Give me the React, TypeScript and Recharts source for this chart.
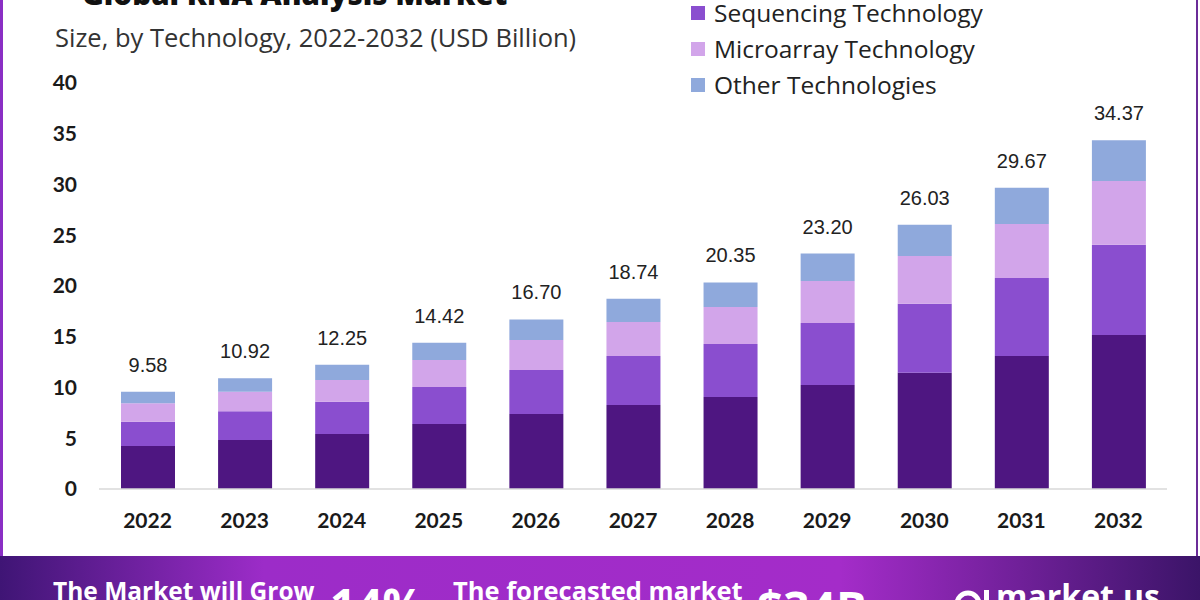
import { BarChart, Bar, XAxis, YAxis, LabelList } from "recharts";

const years = ["2022", "2023", "2024", "2025", "2026", "2027", "2028", "2029", "2030", "2031", "2032"];
const totals = [9.58, 10.92, 12.25, 14.42, 16.7, 18.74, 20.35, 23.2, 26.03, 29.67, 34.37];
const baseSegment = [4.24, 4.83, 5.42, 6.4, 7.39, 8.28, 9.06, 10.25, 11.46, 13.1, 15.17];
const sequencing = [2.39, 2.82, 3.18, 3.65, 4.33, 4.82, 5.23, 6.1, 6.8, 7.69, 8.9];
const microarray = [1.81, 1.94, 2.14, 2.65, 2.96, 3.35, 3.64, 4.14, 4.7, 5.31, 6.27];
const otherTech = [1.14, 1.33, 1.51, 1.72, 2.02, 2.29, 2.42, 2.71, 3.07, 3.57, 4.03];
const yTicks = [0, 5, 10, 15, 20, 25, 30, 35, 40];

const legendItems = [
  { name: "Sequencing Technology", color: "#8a4ecf" },
  { name: "Microarray Technology", color: "#d2a5ea" },
  { name: "Other Technologies", color: "#8fa9dc" },
];

const data = years.map((year, i) => ({
  year,
  base: baseSegment[i],
  sequencing: sequencing[i],
  microarray: microarray[i],
  other: otherTech[i],
}));

const tickFont = { fontFamily: "Lato", fontWeight: 700, fontSize: 21, fill: "#1a1a1a" };

function TotalLabel(props: any) {
  const { x, y, width, index } = props;
  return (
    <text
      x={x + width / 2}
      y={y - 20}
      textAnchor="middle"
      fontFamily="Liberation Sans"
      fontSize={20}
      fill="#222"
    >
      {totals[index].toFixed(2)}
    </text>
  );
}

export default function App() {
  return (
    <div
      style={{
        position: "absolute",
        left: 0,
        top: 0,
        width: 1200,
        height: 600,
        overflow: "hidden",
        background: "#fff",
      }}
    >
      <BarChart
        width={1200}
        height={600}
        data={data}
        margin={{ top: 83, right: 33, left: 0, bottom: 71 }}
        barSize={54}
      >
        <XAxis
          dataKey="year"
          height={40}
          tickLine={false}
          tickMargin={18}
          axisLine={{ stroke: "#d9d9d9", strokeWidth: 1.5 }}
          tick={tickFont}
        />
        <YAxis
          width={99}
          domain={[0, 40]}
          ticks={yTicks}
          axisLine={false}
          tickLine={false}
          tickMargin={16}
          tick={{ ...tickFont, textAnchor: "end" }}
        />
        <Bar dataKey="base" stackId="a" fill="#4e1681" isAnimationActive={false} />
        <Bar dataKey="sequencing" stackId="a" fill="#8a4ecf" isAnimationActive={false} />
        <Bar dataKey="microarray" stackId="a" fill="#d2a5ea" isAnimationActive={false} />
        <Bar dataKey="other" stackId="a" fill="#8fa9dc" isAnimationActive={false}>
          <LabelList dataKey="other" content={TotalLabel} />
        </Bar>
      </BarChart>

      <svg
        width={1200}
        height={600}
        style={{ position: "absolute", left: 0, top: 0, pointerEvents: "none" }}
      >
        <defs>
          <linearGradient id="banner" x1="0" y1="0" x2="1" y2="0">
            <stop offset="0%" stopColor="#3f1575" />
            <stop offset="22%" stopColor="#9c2cc8" />
            <stop offset="70%" stopColor="#a42cc9" />
            <stop offset="100%" stopColor="#3b1468" />
          </linearGradient>
        </defs>

        {/* frame lines */}
        <rect x={0} y={0} width={3} height={556} fill="#8a2fc4" />
        <rect x={1196} y={0} width={2} height={556} fill="#6b2c98" />

        {/* title is cut off at the top in the source too */}
        <text x={82} y={5} fontFamily="Open Sans" fontWeight={800} fontSize={29.5} fill="#111">
          Global RNA Analysis Market
        </text>
        <text x={55} y={47} fontFamily="Open Sans" fontSize={25.5} fill="#333">
          Size, by Technology, 2022-2032 (USD Billion)
        </text>

        {legendItems.map((item, i) => (
          <g key={item.name}>
            <rect x={691} y={6 + i * 36} width={14} height={14} fill={item.color} />
            <text x={714} y={22 + i * 36} fontFamily="Open Sans" fontSize={24.5} fill="#222">
              {item.name}
            </text>
          </g>
        ))}

        {/* bottom banner */}
        <rect x={0} y={556} width={1200} height={44} fill="url(#banner)" />
        <g fontFamily="Open Sans" fontWeight={700} fill="#fff">
          <text x={53} y={600} fontSize={24.5}>The Market will Grow</text>
          <text x={330} y={622} fontSize={46}>14%</text>
          <text x={453} y={600} fontSize={25.5}>The forecasted market</text>
          <text x={757} y={625} fontSize={46}>$34B</text>
          <circle cx={968} cy={604} r={11} fill="none" stroke="#fff" strokeWidth={5} />
          <rect x={984} y={590} width={5} height={14} fill="#fff" />
          <text x={996} y={608} fontSize={32}>market.us</text>
        </g>
      </svg>
    </div>
  );
}
